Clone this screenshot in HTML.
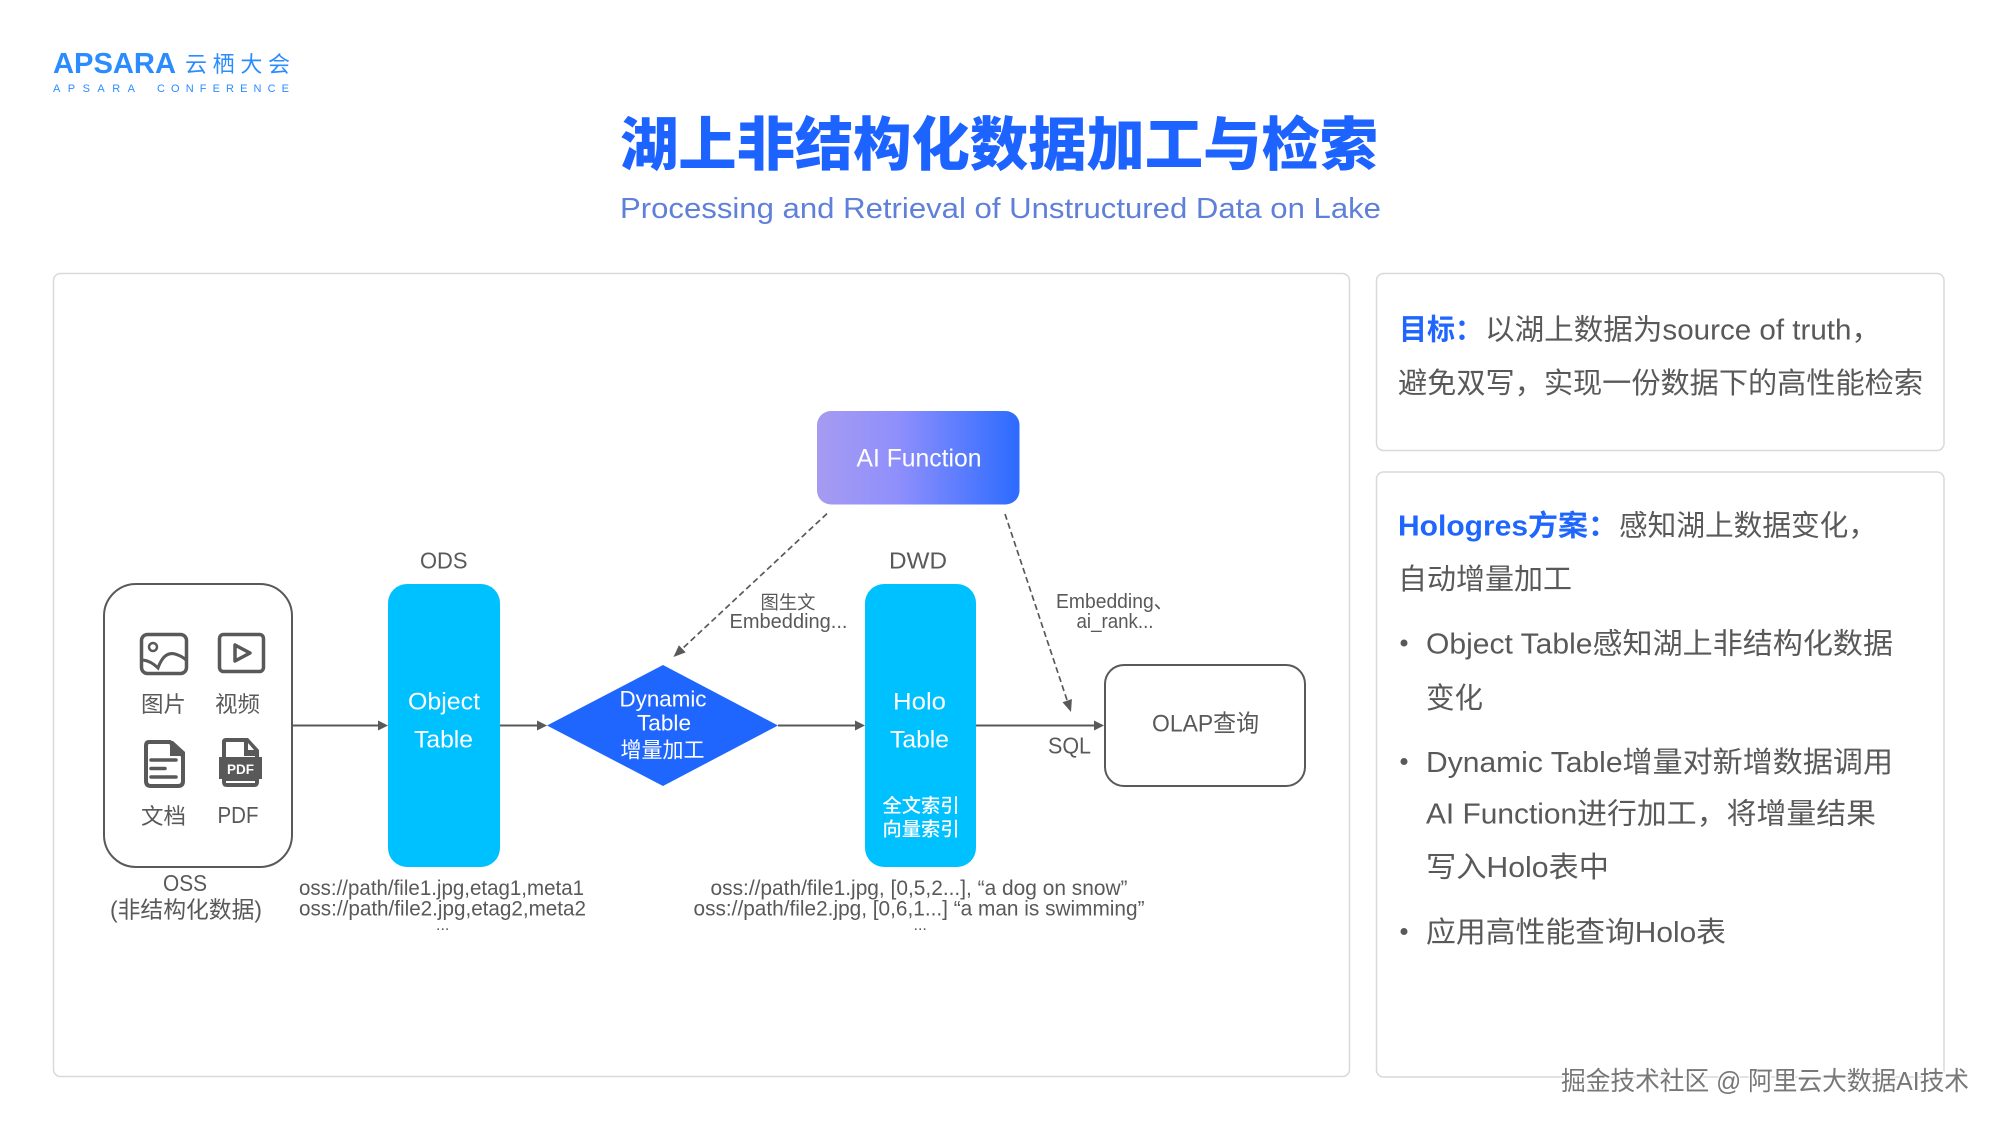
<!DOCTYPE html>
<html lang="zh">
<head>
<meta charset="utf-8">
<title>湖上非结构化数据加工与检索</title>
<style>
html,body{margin:0;padding:0;background:#fff;width:2000px;height:1125px;overflow:hidden}
svg{display:block}
text{font-family:"Liberation Sans","Noto Sans CJK SC",sans-serif;fill:#595959}
.w{fill:#fff}
.b{fill:#1f66ff;font-weight:700}
</style>
</head>
<body>
<svg width="2000" height="1125" viewBox="0 0 2000 1125" xmlns="http://www.w3.org/2000/svg">
<defs>
<linearGradient id="g" x1="0" y1="0" x2="1" y2="0">
<stop offset="0" stop-color="#a69bf1"/>
<stop offset="0.4" stop-color="#8f8ffc"/>
<stop offset="1" stop-color="#2c6bff"/>
</linearGradient>
</defs>
<rect width="2000" height="1125" fill="#fff"/>

<!-- logo -->
<text x="53" y="73" font-size="29" font-weight="700" style="fill:#2b8cff" textLength="123" lengthAdjust="spacingAndGlyphs">APSARA</text>
<text x="185" y="72" font-size="22" style="fill:#2b8cff" textLength="105" lengthAdjust="spacing">云栖大会</text>
<text x="53" y="92" font-size="11" style="fill:#2b8cff" textLength="82" lengthAdjust="spacing">APSARA</text>
<text x="157" y="92" font-size="11" style="fill:#2b8cff" textLength="132" lengthAdjust="spacing">CONFERENCE</text>

<!-- title -->
<text x="620" y="165" font-size="58" font-weight="900" style="fill:#1d63ff" textLength="758" lengthAdjust="spacingAndGlyphs">湖上非结构化数据加工与检索</text>
<text x="620" y="218" font-size="29" style="fill:#5f80d8" textLength="761" lengthAdjust="spacingAndGlyphs">Processing and Retrieval of Unstructured Data on Lake</text>

<!-- panels -->
<rect x="53.500" y="273.500" width="1296" height="803" rx="7" fill="#fff" stroke="#d9d9d9" stroke-width="1.500"/>
<rect x="1376.500" y="273.500" width="567.500" height="177" rx="7" fill="#fff" stroke="#d9d9d9" stroke-width="1.500"/>
<rect x="1376.500" y="472" width="567.500" height="605" rx="7" fill="#fff" stroke="#d9d9d9" stroke-width="1.500"/>

<!-- OSS box -->
<rect x="104" y="584" width="188" height="283" rx="32" fill="#fff" stroke="#595959" stroke-width="2"/>

<!-- image icon -->
<rect x="141.500" y="634.500" width="45" height="39" rx="6" fill="none" stroke="#595959" stroke-width="3.500"/>
<circle cx="153" cy="647" r="4" fill="none" stroke="#595959" stroke-width="2.500"/>
<path d="M143 660 Q151 661 158 668 Q164 651 175 654 Q182 656 186 660" fill="none" stroke="#595959" stroke-width="3"/>
<!-- play icon -->
<rect x="219.500" y="634.500" width="44" height="37" rx="4" fill="none" stroke="#595959" stroke-width="3.500"/>
<path d="M235 645 L235 661 L250 653 Z" fill="none" stroke="#595959" stroke-width="3.500" stroke-linejoin="round"/>
<!-- doc icon -->
<path d="M149 742 L170 742 L183 756 L183 781 Q183 786 178 786 L151 786 Q146 786 146 781 L146 746 Q146 742 149 742 Z" fill="none" stroke="#595959" stroke-width="4" stroke-linejoin="round"/>
<path d="M170 741 L170 756 L185 756 L185 752 L173 741 Z" fill="#595959"/>
<path d="M151 760 H176 M151 768.500 H165 M151 777 H176" stroke="#595959" stroke-width="3.500" stroke-linecap="round" fill="none"/>
<!-- pdf icon -->
<path d="M226 738 L248 738 L259 750 L259 782 Q259 787 254 787 L227 787 Q222 787 222 782 L222 742 Q222 738 226 738 Z" fill="#595959"/>
<path d="M226 742 L244 742 L244 756 L255 756 L255 757 L226 757 Z" fill="#fff"/>
<path d="M248 743 L254 750 L248 750 Z" fill="#fff"/>
<rect x="219" y="757" width="43" height="22" fill="#595959"/>
<rect x="226" y="781" width="29" height="2" fill="#fff"/>
<text class="w" x="227" y="774" font-size="14" font-weight="700" textLength="27" lengthAdjust="spacingAndGlyphs">PDF</text>

<text x="141" y="712" font-size="22" textLength="45" lengthAdjust="spacingAndGlyphs">图片</text>
<text x="215" y="712" font-size="22" textLength="45" lengthAdjust="spacingAndGlyphs">视频</text>
<text x="141" y="824" font-size="22" textLength="45" lengthAdjust="spacingAndGlyphs">文档</text>
<text x="217.500" y="823" font-size="23" textLength="41" lengthAdjust="spacingAndGlyphs">PDF</text>

<text x="163" y="891" font-size="23" textLength="44" lengthAdjust="spacingAndGlyphs">OSS</text>
<text x="110" y="917.500" font-size="23" textLength="152" lengthAdjust="spacingAndGlyphs">(非结构化数据)</text>

<!-- ODS -->
<text x="420" y="568.500" font-size="23" textLength="47.500" lengthAdjust="spacingAndGlyphs">ODS</text>
<rect x="388" y="584" width="112" height="283" rx="19" fill="#00c1ff"/>
<text class="w" x="408" y="709.500" font-size="24" textLength="72" lengthAdjust="spacingAndGlyphs">Object</text>
<text class="w" x="414" y="747.500" font-size="24" textLength="59" lengthAdjust="spacingAndGlyphs">Table</text>

<text x="299" y="895" font-size="21" textLength="285" lengthAdjust="spacingAndGlyphs">oss://path/file1.jpg,etag1,meta1</text>
<text x="299" y="915.500" font-size="21" textLength="287" lengthAdjust="spacingAndGlyphs">oss://path/file2.jpg,etag2,meta2</text>
<text x="436" y="930" font-size="16">...</text>

<!-- Diamond -->
<polygon points="547,725.500 663,665 778,725.500 663,786" fill="#1f66ff"/>
<text class="w" x="619.500" y="706.500" font-size="22" textLength="87" lengthAdjust="spacingAndGlyphs">Dynamic</text>
<text class="w" x="637" y="730.500" font-size="22" textLength="54" lengthAdjust="spacingAndGlyphs">Table</text>
<text class="w" x="620.500" y="757.500" font-size="21.500" textLength="84" lengthAdjust="spacingAndGlyphs">增量加工</text>

<!-- Holo -->
<text x="889" y="568.500" font-size="23" textLength="58" lengthAdjust="spacingAndGlyphs">DWD</text>
<rect x="865" y="584" width="111" height="283" rx="19" fill="#00c1ff"/>
<text class="w" x="893" y="709.500" font-size="24" textLength="53" lengthAdjust="spacingAndGlyphs">Holo</text>
<text class="w" x="890" y="747.500" font-size="24" textLength="59" lengthAdjust="spacingAndGlyphs">Table</text>
<text class="w" x="882.500" y="812" font-size="19" font-weight="500" textLength="77" lengthAdjust="spacingAndGlyphs">全文索引</text>
<text class="w" x="882.500" y="835.500" font-size="19" font-weight="500" textLength="77" lengthAdjust="spacingAndGlyphs">向量索引</text>

<text x="710.500" y="895" font-size="21" textLength="417" lengthAdjust="spacingAndGlyphs">oss://path/file1.jpg, [0,5,2...],  “a dog on snow”</text>
<text x="693.500" y="915.500" font-size="21" textLength="451" lengthAdjust="spacingAndGlyphs">oss://path/file2.jpg, [0,6,1...]  “a man is swimming”</text>
<text x="913.500" y="930" font-size="16">...</text>

<!-- AI Function -->
<rect x="817" y="411" width="202.500" height="93.500" rx="14" fill="url(#g)"/>
<text class="w" x="856.500" y="466.500" font-size="25" textLength="125" lengthAdjust="spacingAndGlyphs">AI Function</text>

<!-- OLAP -->
<rect x="1105" y="665" width="200" height="121" rx="19" fill="#fff" stroke="#595959" stroke-width="2"/>
<text x="1152" y="731.500" font-size="24" textLength="107" lengthAdjust="spacingAndGlyphs">OLAP查询</text>
<text x="1048" y="753.500" font-size="23" textLength="43" lengthAdjust="spacingAndGlyphs">SQL</text>

<!-- arrows -->
<g stroke="#595959" stroke-width="2" fill="none">
<path d="M292 725.500 H380"/>
<path d="M500 725.500 H539"/>
<path d="M778 725.500 H857"/>
<path d="M976 725.500 H1096"/>
</g>
<g fill="#595959">
<polygon points="388,725.500 378,720.500 378,730.500"/>
<polygon points="547,725.500 537,720.500 537,730.500"/>
<polygon points="865,725.500 855,720.500 855,730.500"/>
<polygon points="1104,725.500 1094,720.500 1094,730.500"/>
</g>

<!-- dashed -->
<g stroke="#595959" stroke-width="1.700" fill="none" stroke-dasharray="6 3.500">
<path d="M827 513.600 L682 649"/>
<path d="M1005 514 L1067 700"/>
</g>
<polygon points="673.500,657 685.700,652.400 678.900,645.200" fill="#595959"/>
<polygon points="1071,712 1071.900,699 1062.500,702.200" fill="#595959"/>

<text x="760.500" y="609" font-size="18.500" textLength="55" lengthAdjust="spacingAndGlyphs">图生文</text>
<text x="729.500" y="628" font-size="20" textLength="118" lengthAdjust="spacingAndGlyphs">Embedding...</text>
<text x="1056" y="608" font-size="20" textLength="117" lengthAdjust="spacingAndGlyphs">Embedding、</text>
<text x="1076.500" y="628" font-size="20" textLength="77" lengthAdjust="spacingAndGlyphs">ai_rank...</text>

<!-- right text -->
<text class="b" x="1399" y="339.500" font-size="29" textLength="84" lengthAdjust="spacingAndGlyphs">目标：</text>
<text x="1485" y="339.500" font-size="29" textLength="396" lengthAdjust="spacingAndGlyphs">以湖上数据为source of truth，</text>
<text x="1398" y="393" font-size="29" textLength="525" lengthAdjust="spacingAndGlyphs">避免双写，实现一份数据下的高性能检索</text>

<text class="b" x="1398" y="535.500" font-size="29" textLength="220" lengthAdjust="spacingAndGlyphs">Hologres方案：</text>
<text x="1619" y="535.500" font-size="29" textLength="258" lengthAdjust="spacingAndGlyphs">感知湖上数据变化，</text>
<text x="1398" y="589" font-size="29" textLength="174" lengthAdjust="spacingAndGlyphs">自动增量加工</text>

<circle cx="1404" cy="643" r="3.500" fill="#595959"/>
<text x="1426" y="653.500" font-size="29" textLength="467" lengthAdjust="spacingAndGlyphs">Object Table感知湖上非结构化数据</text>
<text x="1426" y="708" font-size="29" textLength="57" lengthAdjust="spacingAndGlyphs">变化</text>

<circle cx="1404" cy="761.500" r="3.500" fill="#595959"/>
<text x="1426" y="772" font-size="29" textLength="467" lengthAdjust="spacingAndGlyphs">Dynamic Table增量对新增数据调用</text>
<text x="1426" y="823.500" font-size="29" textLength="450" lengthAdjust="spacingAndGlyphs">AI Function进行加工，将增量结果</text>
<text x="1426" y="877" font-size="29" textLength="183" lengthAdjust="spacingAndGlyphs">写入Holo表中</text>

<circle cx="1404" cy="931.500" r="3.500" fill="#595959"/>
<text x="1426" y="942" font-size="29" textLength="300" lengthAdjust="spacingAndGlyphs">应用高性能查询Holo表</text>

<!-- watermark -->
<text x="1561" y="1090" font-size="26" style="fill:#777;stroke:#fff;stroke-width:2.500px;paint-order:stroke" textLength="408" lengthAdjust="spacingAndGlyphs">掘金技术社区 @ 阿里云大数据AI技术</text>
</svg>
</body>
</html>
